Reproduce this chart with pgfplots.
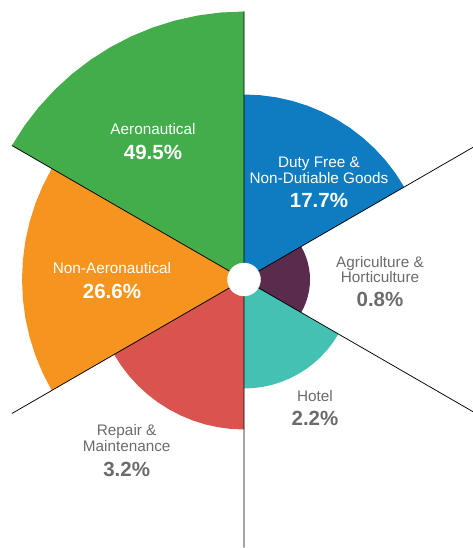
\documentclass[border=0pt]{standalone}
\usepackage{pgfplots}
\pgfplotsset{compat=1.18}
\usepackage{fontspec}
\setmainfont{Liberation Sans}
\definecolor{cBlue}{HTML}{0F7BC1}
\definecolor{cGreen}{HTML}{43AD4B}
\definecolor{cOrange}{HTML}{F5951F}
\definecolor{cRed}{HTML}{D9534F}
\definecolor{cTeal}{HTML}{45C1B3}
\definecolor{cPurple}{HTML}{5A2B4C}
\definecolor{cGray}{HTML}{6B6B6B}
\newcommand{\lab}{\fontsize{15.3}{18}\selectfont}
\newcommand{\pct}{\fontsize{20.5}{24}\selectfont\bfseries}
\begin{document}
\begin{tikzpicture}
\begin{axis}[
  scale only axis, width=473pt, height=548pt,
  xmin=-244, xmax=229, ymin=-268.5, ymax=279.5,
  hide axis, clip=true,
]
\path (rel axis cs:0,0) rectangle (rel axis cs:1,1);
% Duty Free (r=185)
\addplot[draw=none, fill=cBlue, data cs=polar] coordinates {(0,0) (30,185)(35,185)(40,185)(45,185)(50,185)(55,185)(60,185)(65,185)(70,185)(75,185)(80,185)(85,185)(90,185) (0,0)} --cycle;
% Aeronautical (r=268)
\addplot[draw=none, fill=cGreen, data cs=polar] coordinates {(0,0) (90,268)(95,268)(100,268)(105,268)(110,268)(115,268)(120,268)(125,268)(130,268)(135,268)(140,268)(145,268)(150,268) (0,0)} --cycle;
% Non-Aeronautical (r=222)
\addplot[draw=none, fill=cOrange, data cs=polar] coordinates {(0,0) (150,222)(155,222)(160,222)(165,222)(170,222)(175,222)(180,222)(185,222)(190,222)(195,222)(200,222)(205,222)(210,222) (0,0)} --cycle;
% Repair (r=150)
\addplot[draw=none, fill=cRed, data cs=polar] coordinates {(0,0) (210,150)(215,150)(220,150)(225,150)(230,150)(235,150)(240,150)(245,150)(250,150)(255,150)(260,150)(265,150)(270,150) (0,0)} --cycle;
% Hotel (r=109)
\addplot[draw=none, fill=cTeal, data cs=polar] coordinates {(0,0) (270,109)(275,109)(280,109)(285,109)(290,109)(295,109)(300,109)(305,109)(310,109)(315,109)(320,109)(325,109)(330,109) (0,0)} --cycle;
% Agriculture (r=66)
\addplot[draw=none, fill=cPurple, data cs=polar] coordinates {(0,0) (-30,66)(-25,66)(-20,66)(-15,66)(-10,66)(-5,66)(0,66)(5,66)(10,66)(15,66)(20,66)(25,66)(30,66) (0,0)} --cycle;
% divider lines
\addplot[black, line width=0.75pt, data cs=polar] coordinates {(0,0) (30,268) (0,0) (90,268) (0,0) (150,268) (0,0) (210,268) (0,0) (270,268) (0,0) (330,268) (0,0)};
% centre hole
\addplot[only marks, mark=*, mark size=16.5pt, mark options={draw=white, fill=white}] coordinates {(0,0)};
% labels
\node[anchor=base, inner sep=0, white] at (axis cs:-91,144.6) {\lab Aeronautical};
\node[anchor=base, inner sep=0, white] at (axis cs:-91,119.5) {\pct 49.5\%};
\node[anchor=base, inner sep=0, white] at (axis cs:75,112.4) {\lab Duty Free \&};
\node[anchor=base, inner sep=0, white] at (axis cs:75,96.4) {\lab Non-Dutiable Goods};
\node[anchor=base, inner sep=0, white] at (axis cs:75,72.2) {\pct 17.7\%};
\node[anchor=base, inner sep=0, cGray] at (axis cs:136,12.4) {\lab Agriculture \&};
\node[anchor=base, inner sep=0, cGray] at (axis cs:136,-2.6) {\lab Horticulture};
\node[anchor=base, inner sep=0, cGray] at (axis cs:136,-27.1) {\pct 0.8\%};
\node[anchor=base, inner sep=0, cGray] at (axis cs:71,-121.6) {\lab Hotel};
\node[anchor=base, inner sep=0, cGray] at (axis cs:71,-146.1) {\pct 2.2\%};
\node[anchor=base, inner sep=0, cGray] at (axis cs:-117.3,-155.9) {\lab Repair \&};
\node[anchor=base, inner sep=0, cGray] at (axis cs:-117.3,-171.6) {\lab Maintenance};
\node[anchor=base, inner sep=0, cGray] at (axis cs:-117.3,-196.8) {\pct 3.2\%};
\node[anchor=base, inner sep=0, white] at (axis cs:-132,6.1) {\lab Non-Aeronautical};
\node[anchor=base, inner sep=0, white] at (axis cs:-132,-19.5) {\pct 26.6\%};
\end{axis}
\end{tikzpicture}
\end{document}
